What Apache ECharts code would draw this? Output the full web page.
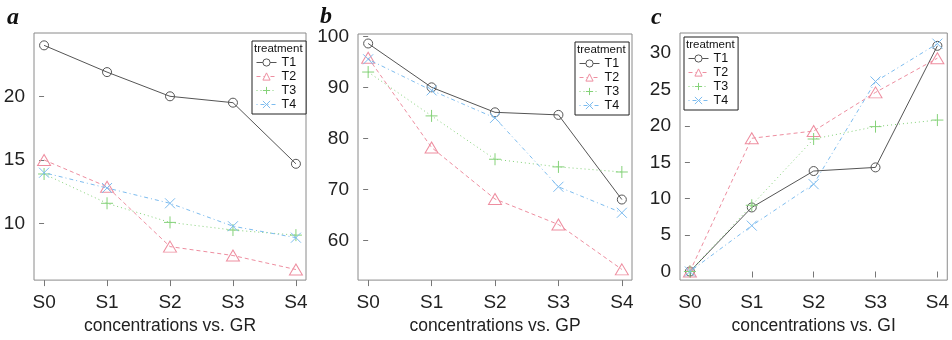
<!DOCTYPE html>
<html>
<head>
<meta charset="utf-8">
<script src="https://cdn.jsdelivr.net/npm/echarts@6/dist/echarts.min.js"></script>
<style>
html,body{margin:0;padding:0;background:#fff;}
#chart{width:952px;height:340px;}
</style>
</head>
<body>
<div id="chart"></div>
<script>
// ---- data ----
const categories = ['S0', 'S1', 'S2', 'S3', 'S4'];
const treatments = ['T1', 'T2', 'T3', 'T4'];

const grT1 = [24.0, 21.9, 20.0, 19.5, 14.7];
const grT2 = [15.0, 12.9, 8.2, 7.5, 6.4];
const grT3 = [13.9, 11.6, 10.1, 9.5, 9.1];
const grT4 = [14.0, 12.8, 11.6, 9.8, 8.9];

const gpT1 = [98.6, 90.0, 85.1, 84.6, 68.0];
const gpT2 = [95.8, 78.2, 68.1, 63.1, 54.3];
const gpT3 = [93.0, 84.4, 75.9, 74.4, 73.4];
const gpT4 = [95.5, 89.4, 84.0, 70.5, 65.4];

const giT1 = [0, 8.8, 13.8, 14.3, 31.0];
const giT2 = [0, 18.3, 19.3, 24.6, 29.3];
const giT3 = [0, 9.1, 18.2, 19.9, 20.8];
const giT4 = [0, 6.3, 12.0, 26.1, 31.3];

const grTicks = [10, 15, 20];
const gpTicks = [60, 70, 80, 90, 100];
const giTicks = [0, 5, 10, 15, 20, 25, 30];

const panelLetters = ['a', 'b', 'c'];
const axisTitles = ['concentrations vs. GR', 'concentrations vs. GP', 'concentrations vs. GI'];

// ---- styling ----
const colors = ['#555555', '#ee8ea0', '#85d279', '#7dbcef'];
const dashes = ['solid', [4, 3], [1, 3], [1, 3, 4, 3]];
const symbols = [
  'circle',
  'triangle',
  'path://M5,0L5,10M0,5L10,5',
  'path://M0,0L10,10M0,10L10,0'
];
const symSizes = [9, [13, 11], 12, 10];

const panels = [
  { series: [grT1, grT2, grT3, grT4], ticks: grTicks, ymin: 5.57, ymax: 24.97,
    grid: { left: 34, top: 33, width: 272, height: 251 }, legend: { left: 252, top: 41 } },
  { series: [gpT1, gpT2, gpT3, gpT4], ticks: gpTicks, ymin: 52.2, ymax: 100.46,
    grid: { left: 358, top: 34, width: 274, height: 250 }, legend: { left: 575, top: 42 } },
  { series: [giT1, giT2, giT3, giT4], ticks: giTicks, ymin: -1.18, ymax: 32.76,
    grid: { left: 680, top: 33, width: 274, height: 251 }, legend: { left: 684, top: 37 } }
];
const letterPos = [{ left: 7, top: 6 }, { left: 320, top: 5 }, { left: 651, top: 6 }];

const tickFont = "'Liberation Sans', Arial, sans-serif";
const textFont = "'Liberation Sans', Arial, sans-serif";

const option = {
  animation: false,
  backgroundColor: '#ffffff',
  grid: [], xAxis: [], yAxis: [], series: [], legend: [], title: []
};

panels.forEach((p, pi) => {
  option.grid.push(Object.assign({ show: true, borderColor: '#8a8a8a', borderWidth: 1, containLabel: false }, p.grid));
  option.xAxis.push({
    type: 'value', gridIndex: pi, min: -0.16, max: 4.16,
    axisLine: { show: false },
    splitLine: { show: false },
    axisTick: { show: true, customValues: categories.map((c, i) => i), length: 6, lineStyle: { color: '#777' } },
    axisLabel: { show: true, customValues: categories.map((c, i) => i), formatter: v => categories[Math.round(v)],
      fontSize: 19, margin: 13, color: '#222', fontFamily: tickFont },
    name: axisTitles[pi], nameLocation: 'middle', nameGap: 34,
    nameTextStyle: { fontSize: 17.5, color: '#222', fontFamily: textFont }
  });
  option.yAxis.push({
    type: 'value', gridIndex: pi, min: p.ymin, max: p.ymax,
    axisLine: { show: false },
    splitLine: { show: false },
    axisTick: { show: true, customValues: p.ticks, length: 5, lineStyle: { color: '#777' } },
    axisLabel: { show: true, customValues: p.ticks, fontSize: 19, margin: 9, color: '#222', fontFamily: tickFont }
  });
  p.series.forEach((vals, si) => {
    option.series.push({
      type: 'line', name: treatments[si], xAxisIndex: pi, yAxisIndex: pi,
      data: vals.map((v, i) => [i, v]),
      symbol: symbols[si], symbolSize: symSizes[si], showAllSymbol: true,
      lineStyle: { color: colors[si], width: 1, type: dashes[si] },
      itemStyle: { color: 'rgba(255,255,255,0)', borderColor: colors[si], borderWidth: 1 },
      emphasis: { disabled: true },
      z: 2 + si
    });
  });
  option.legend.push({
    data: treatments, orient: 'vertical', left: p.legend.left, top: p.legend.top,
    padding: [15, 10, 3, 4], itemWidth: 20, itemHeight: 9, itemGap: 1,
    borderColor: '#222', borderWidth: 1, backgroundColor: '#fff',
    selectedMode: false,
    itemStyle: { color: '#ffffff', borderWidth: 1 },
    lineStyle: { width: 1 },
    textStyle: { fontSize: 12.5, lineHeight: 12, color: '#111', fontFamily: textFont }
  });
  option.title.push({
    text: 'treatment', left: p.legend.left + 2, top: p.legend.top + 2, padding: 0,
    textStyle: { fontSize: 11.5, fontWeight: 'normal', color: '#111', fontFamily: textFont }
  });
  option.title.push({
    text: panelLetters[pi], left: letterPos[pi].left, top: letterPos[pi].top, padding: 0,
    textStyle: { fontSize: 24, fontWeight: 'bold', fontStyle: 'italic', color: '#111', fontFamily: "'Liberation Serif', 'DejaVu Serif', serif" }
  });
});

const chart = echarts.init(document.getElementById('chart'), null, { renderer: 'canvas' });
chart.setOption(option);
</script>
</body>
</html>
